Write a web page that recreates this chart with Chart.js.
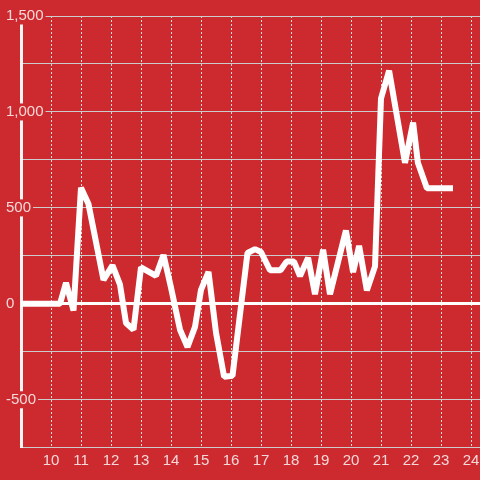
<!DOCTYPE html>
<html>
<head>
<meta charset="utf-8">
<script src="https://cdn.jsdelivr.net/npm/chart.js@4"></script>
<style>
  html, body { margin: 0; padding: 0; background: #cc2a2f; }
  #wrap { width: 480px; height: 480px; position: relative; }
</style>
</head>
<body>
<div id="wrap"><canvas id="myChart"></canvas></div>
<script>
// hours (x) and values (y)
const xValues = [8.9, 10.3, 10.5, 10.75, 11.0, 11.25, 11.75, 12.05, 12.3, 12.5, 12.75, 13.0, 13.5, 13.75,
  14.0, 14.3, 14.55, 14.8, 15.0, 15.25, 15.5, 15.77, 16.05, 16.55, 16.8, 17.0, 17.3, 17.65, 17.85, 18.1,
  18.3, 18.57, 18.8, 19.07, 19.3, 19.83, 20.07, 20.27, 20.53, 20.8, 21.0, 21.27, 21.8, 22.07, 22.23,
  22.53, 23.4];
const yValues = [0, 0, 110, -35, 605, 520, 125, 200, 100, -100, -135, 190, 146, 255,
  85, -135, -225, -120, 73, 167, -150, -380, -375, 265, 285, 270, 175, 175, 220, 220,
  145, 240, 50, 282, 50, 382, 165, 302, 70, 195, 1070, 1215, 735, 945, 735,
  602, 602];
const xMin = 9, xMax = 24.3;
const yMin = -750, yMax = 1500, yStep = 250;

const labelColor = 'rgba(255,255,255,0.82)';
const gridColor = '#cccccc';
const bg = '#cc2a2f';

const points = xValues.map((x, i) => ({ x: x, y: yValues[i] }));

new Chart(document.getElementById('myChart').getContext('2d'), {
  type: 'line',
  data: {
    datasets: [{
      data: points,
      borderColor: '#ffffff',
      borderWidth: 6,
      borderJoinStyle: 'bevel',
      pointRadius: 0,
      tension: 0,
      fill: false,
    }],
  },
  options: {
    responsive: true,
    maintainAspectRatio: false,
    animation: false,
    layout: { padding: { left: 21, top: 16, right: 0, bottom: 6 } },
    plugins: { legend: { display: false }, tooltip: { enabled: false } },
    scales: {
      x: {
        type: 'linear',
        min: xMin,
        max: xMax,
        grid: { color: '#dddddd', lineWidth: 1, drawTicks: false },
        border: { color: gridColor, width: 1, dash: [2, 2] },
        ticks: {
          stepSize: 1,
          includeBounds: false,
          padding: 0,
          color: labelColor,
          font: { family: "'Liberation Sans', Arial, sans-serif", size: 15, lineHeight: 1.75 },
          callback: (v) => (v >= 10 && Number.isInteger(v)) ? String(v) : '',
          maxRotation: 0,
          autoSkip: false,
        },
      },
      y: {
        min: yMin,
        max: yMax,
        afterFit: (scale) => { scale.width = 0; },
        grid: {
          drawTicks: false,
          color: (c) => (c.tick && c.tick.value === 0) ? '#ffffff' : gridColor,
          lineWidth: (c) => (c.tick && c.tick.value === 0) ? 3 : 1,
        },
        border: { color: '#f4f4f4', width: 3 },
        ticks: {
          stepSize: yStep,
          mirror: true,
          crossAlign: 'near',
          padding: -15,
          color: labelColor,
          showLabelBackdrop: true,
          backdropColor: bg,
          backdropPadding: { left: 2, right: 2, top: 1, bottom: 1 },
          font: { family: "'Liberation Sans', Arial, sans-serif", size: 15, lineHeight: 1 },
          callback: (v) => (v % 500 === 0) ? v.toLocaleString('en-US') : '',
        },
      },
    },
  },
});
</script>
</body>
</html>
